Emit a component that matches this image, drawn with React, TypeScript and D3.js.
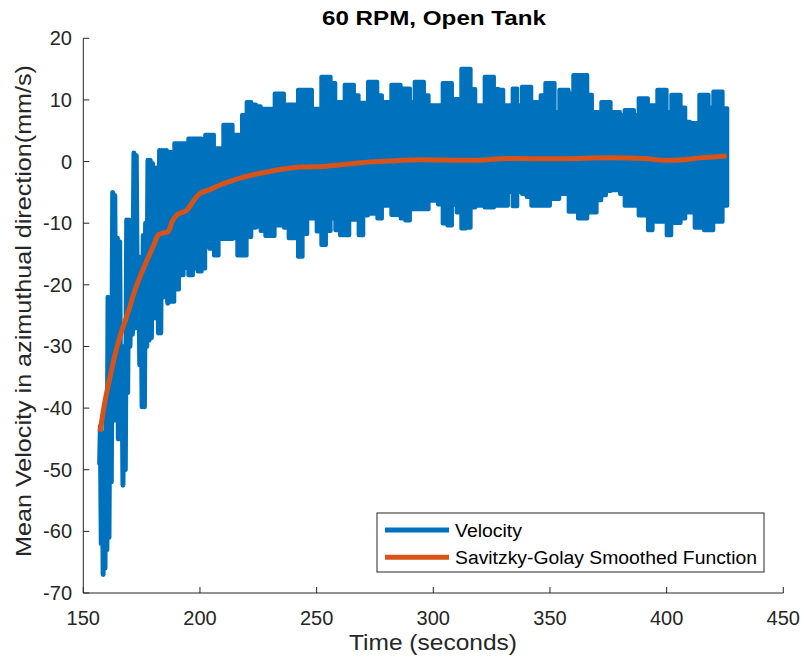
import React from 'react';
import * as d3 from 'd3';

const xTicks = [150, 200, 250, 300, 350, 400, 450];
const yTicks = [-70, -60, -50, -40, -30, -20, -10, 0, 10, 20];

// Early, visibly separate oscillations of the velocity record (t in s, v in mm/s)
const spikeTime = [
  157.0, 157.3, 157.7, 158.1, 158.5, 158.9, 159.3, 159.7, 160.1, 160.6,
  161.0, 161.5, 162.0, 162.6, 163.0, 163.5, 164.0, 164.6, 165.0, 165.6,
  166.0, 166.5, 167.0, 167.5, 168.0, 168.6, 169.0, 169.6, 170.0, 170.6,
  171.1, 171.7, 172.2, 172.7, 173.2, 173.7, 174.2, 174.7, 175.2, 175.7,
  176.2, 176.7, 177.2, 177.7, 178.2, 178.7, 179.2, 179.7, 180.2, 180.7,
  181.2, 181.7, 182.2, 182.7, 183.2, 183.7, 184.2, 184.7, 185.2, 185.7, 186.2,
];
const spikeVelocity = [
  -49, -43, -62, -44, -67, -46, -66, -40, -63, -22,
  -61, -30, -52, -5, -42, -5.5, -41, -12.4, -45, -13,
  -40, -30, -52.5, -30, -50, -9.5, -37.5, -9.5, -30, -20,
  -28, 1.4, -27, 1.0, -25, -15.5, -33, -15.5, -39.8, -12,
  -39.8, -10, -30, 0.2, -29, 0.2, -28.6, -0.3, -25.4, -6,
  -25.4, -1, -27.8, 1.8, -27.8, 1.8, -22, 1.8, -17.6, 1.8, -23,
];

// Later part: the oscillation is too fast to resolve, read as its upper / lower envelope
const bandTime = [
  186, 188, 190, 192, 194, 196, 198, 200, 201.5, 203, 205, 207, 209, 211, 213, 215, 217, 219,
  221, 223, 225, 227, 229, 231, 233, 235, 237, 239, 241, 243, 245, 247, 249, 251, 253, 255,
  257, 259, 261, 263, 265, 267, 269, 271, 273, 275, 277, 279, 281, 283, 285, 287, 289, 291,
  293, 295, 297, 299, 301, 303, 305, 307, 309, 311, 313, 315, 317, 319, 321, 323, 325, 327,
  329, 331, 333, 335, 337, 339, 341, 343, 345, 347, 349, 351, 353, 355, 357, 359, 361, 363,
  365, 367, 369, 371, 373, 375, 377, 379, 381, 383, 385, 387, 389, 391, 393, 395, 397, 399,
  401, 403, 405, 407, 409, 411, 413, 415, 417, 419, 421, 423, 425, 426,
];
const bandHigh = [
  1.8, 1.8, 3.2, 3.2, 3.2, 4.0, 4.0, 4.0, 2.7, 4.6, 4.6, 2.4, 2.4, 6.2, 6.2, 4.6, 4.6, 7.8,
  9.9, 9.5, 9.2, 8.8, 8.8, 8.8, 11.3, 11.3, 9.5, 9.5, 9.5, 11.9, 11.9, 11.9, 8.8, 8.8, 14.0, 14.0,
  13.0, 9.9, 9.9, 12.7, 12.7, 11.0, 9.8, 9.8, 13.2, 13.2, 11.0, 9.9, 9.9, 12.7, 12.7, 12.1, 12.1, 9.9,
  13.2, 13.2, 11.0, 9.4, 9.4, 9.4, 13.0, 13.0, 10.4, 10.4, 15.3, 15.3, 12.0, 9.4, 9.4, 14.0, 14.0, 12.0,
  11.9, 9.4, 9.4, 12.1, 9.4, 12.4, 12.4, 9.9, 9.9, 11.0, 13.0, 13.0, 8.3, 11.9, 11.9, 11.3, 14.3, 14.3,
  14.3, 11.1, 8.3, 8.3, 9.9, 9.9, 8.3, 8.3, 7.8, 8.6, 8.6, 7.8, 10.5, 10.5, 9.4, 9.4, 11.9, 11.9,
  8.3, 11.1, 11.1, 9.0, 6.7, 6.5, 6.5, 11.1, 11.1, 9.0, 11.6, 11.6, 8.9, 8.9,
];
const bandLow = [
  -23, -23, -21, -18.7, -17.5, -18.7, -17.6, -18.1, -17.6, -13.9, -14.4, -15.5, -12.8, -12.8, -12.8, -12.7, -15.5, -15.5,
  -12.5, -11.0, -10.8, -11.5, -12.3, -12.3, -10.6, -10.6, -11.0, -12.7, -12.7, -15.7, -12.0, -9.5, -9.5, -11.6, -13.8, -11.5,
  -9.5, -11.4, -12.2, -12.2, -9.7, -9.7, -12.2, -9.0, -8.7, -8.7, -9.5, -7.4, -7.4, -8.9, -8.9, -9.5, -9.8, -8.0,
  -8.0, -8.0, -8.0, -6.6, -6.6, -7.2, -10.3, -10.6, -7.3, -8.5, -11.1, -11.0, -7.7, -7.4, -7.4, -7.7, -7.7, -7.4,
  -7.4, -7.4, -5.2, -7.5, -5.2, -5.5, -6.0, -7.4, -7.4, -7.4, -7.4, -6.3, -6.3, -5.5, -5.5, -8.4, -8.4, -9.5,
  -9.5, -8.5, -8.5, -6.5, -5.7, -5.0, -4.9, -4.9, -5.5, -7.4, -7.4, -7.4, -9.0, -9.0, -11.4, -10.0, -10.0, -10.0,
  -12.2, -10.2, -10.2, -9.5, -8.5, -8.5, -11.0, -11.0, -11.4, -11.4, -10.0, -10.0, -7.4, -7.4,
];

// Savitzky-Golay smoothed curve
const smoothTime = [
  157.2, 159, 161.5, 163.5, 165.7, 168, 170, 172, 174.3, 176.5, 178.6, 180.5, 182.1, 184, 186.4,
  188, 190, 192, 194.3, 196.5, 198.6, 200, 204, 208.6, 213, 217.2, 221, 225.7, 230, 234.3,
  242.9, 254.3, 265, 272.9, 284, 294.3, 305, 315.7, 333, 354.3, 375.8, 390, 400, 407, 414.4, 420, 425.7,
];
const smoothVelocity = [
  -43.8, -39.5, -34.9, -31.5, -28.4, -25.8, -23.5, -21, -18.7, -16.7, -14.9, -13.3, -11.9, -11.6, -11.4,
  -9.8, -8.7, -8.3, -7.9, -6.8, -5.7, -5.2, -4.6, -3.8, -3.2, -2.7, -2.3, -1.9, -1.6, -1.3,
  -0.9, -0.75, -0.35, -0.05, 0.15, 0.3, 0.25, 0.2, 0.5, 0.45, 0.6, 0.5, 0.2, 0.3, 0.6, 0.75, 0.9,
];

const legendLabels = ['Velocity', 'Savitzky-Golay Smoothed Function'];
const legendTextWidths = [67, 302];

const BLUE = '#0072BD';
const ORANGE = '#D95319';
const AXIS = '#262626';
const FONT = '"Liberation Sans", Arial, Helvetica, sans-serif';

export default function App() {
  const W = 804;
  const H = 668;
  const left = 83.3, right = 783.3, top = 38.3, bottom = 593;
  const x = d3.scaleLinear().domain([150, 450]).range([left, right]);
  const y = d3.scaleLinear().domain([-70, 20]).range([bottom, top]);

  const spikeLine = d3.line<number>().x((i) => x(spikeTime[i])).y((i) => y(spikeVelocity[i]));
  const spikePath = spikeLine(spikeTime.map((_, i) => i)) || '';

  const band = d3
    .area<number>()
    .x((i) => x(bandTime[i]))
    .y0((i) => y(bandLow[i]) - 1.5)
    .y1((i) => y(bandHigh[i]) + 1.5)
    .curve(d3.curveStep);
  const bandPath = band(bandTime.map((_, i) => i)) || '';

  const smoothLine = d3
    .line<number>()
    .x((i) => x(smoothTime[i]))
    .y((i) => y(smoothVelocity[i]))
    .curve(d3.curveMonotoneX);
  const smoothPath = smoothLine(smoothTime.map((_, i) => i)) || '';

  const tickLen = 6;
  const legX = 377, legY = 513, legW = 387, legH = 59;

  return (
    <svg
      width={W}
      height={H}
      viewBox={`0 0 ${W} ${H}`}
      style={{ position: 'absolute', left: 0, top: 0, background: '#fff' }}
      fontFamily={FONT}
    >
      <rect x={0} y={0} width={W} height={H} fill="#fff" />
      {/* data */}
      <path d={bandPath} fill={BLUE} stroke={BLUE} strokeWidth={4} strokeLinejoin="round" />
      <path d={spikePath} fill="none" stroke={BLUE} strokeWidth={5} strokeLinejoin="round" strokeLinecap="round" />
      <path d={smoothPath} fill="none" stroke={ORANGE} strokeWidth={5} strokeLinejoin="round" strokeLinecap="butt" />

      {/* axes */}
      <line x1={left} x2={right} y1={bottom} y2={bottom} stroke={AXIS} strokeWidth={1} />
      <line x1={left} x2={left} y1={top} y2={bottom} stroke={AXIS} strokeWidth={1} />
      {xTicks.map((t) => (
        <g key={'x' + t}>
          <line x1={x(t)} x2={x(t)} y1={bottom} y2={bottom - tickLen} stroke={AXIS} strokeWidth={1} />
          <text x={x(t)} y={625} textAnchor="middle" fontSize={20} fill={AXIS}>
            {t}
          </text>
        </g>
      ))}
      {yTicks.map((t) => (
        <g key={'y' + t}>
          <line x1={left} x2={left + tickLen} y1={y(t)} y2={y(t)} stroke={AXIS} strokeWidth={1} />
          <text x={72} y={y(t) + 7} textAnchor="end" fontSize={20} fill={AXIS}>
            {t}
          </text>
        </g>
      ))}

      {/* labels */}
      <text
        x={322}
        y={25}
        fontSize={21}
        fontWeight="bold"
        fill="#000"
        textLength={224}
        lengthAdjust="spacingAndGlyphs"
      >
        60 RPM, Open Tank
      </text>
      <text x={349} y={650} fontSize={22} fill={AXIS} textLength={168} lengthAdjust="spacingAndGlyphs">
        Time (seconds)
      </text>
      <text
        transform={`translate(31, 557) rotate(-90)`}
        fontSize={22}
        fill={AXIS}
        textLength={492}
        lengthAdjust="spacingAndGlyphs"
      >
        Mean Velocity in azimuthual direction(mm/s)
      </text>

      {/* legend */}
      <rect x={legX} y={legY} width={legW} height={legH} fill="#fff" stroke={AXIS} strokeWidth={1} />
      {legendLabels.map((lab, i) => {
        const ly = 530 + i * 27.3;
        return (
          <g key={lab}>
            <line x1={385} x2={449} y1={ly} y2={ly} stroke={i === 0 ? BLUE : ORANGE} strokeWidth={5} />
            <text
              x={455}
              y={ly + 6.5}
              fontSize={18}
              fill="#000"
              textLength={legendTextWidths[i]}
              lengthAdjust="spacingAndGlyphs"
            >
              {lab}
            </text>
          </g>
        );
      })}
    </svg>
  );
}
